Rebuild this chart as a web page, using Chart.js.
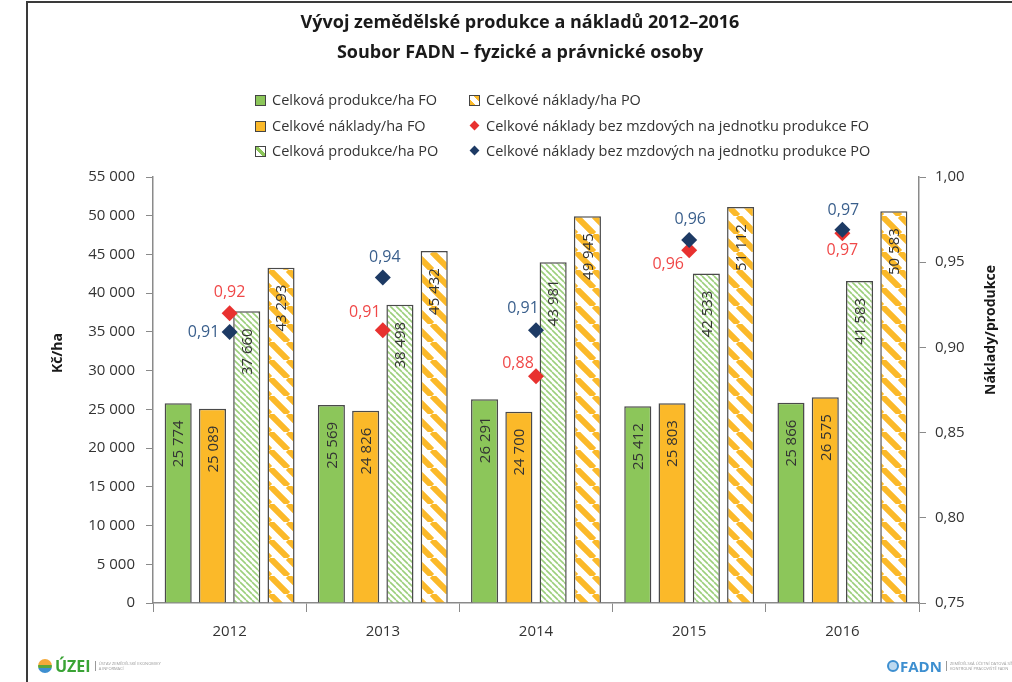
<!DOCTYPE html>
<html><head><meta charset="utf-8">
<script src="https://cdn.jsdelivr.net/npm/chart.js@4.4.1/dist/chart.umd.min.js"></script>
<style>
html,body{margin:0;padding:0;background:#fff;}
#wrap{position:relative;width:1012px;height:682px;overflow:hidden;font-family:'Open Sans',sans-serif;background:#fff;}
#frame{position:absolute;left:26px;top:1px;width:1000px;height:700px;border-top:2px solid #3a3a3a;border-left:2px solid #3a3a3a;pointer-events:none;}
canvas{position:absolute;left:0;top:0;}
.lg{position:absolute;font-size:14.5px;color:#333;white-space:nowrap;line-height:18px;padding-left:17px;}
.ic{position:absolute;left:0;top:4px;width:9px;height:9px;border:1px solid #444;}
.dm{position:absolute;left:2px;top:5px;width:7px;height:7px;transform:rotate(45deg);}
.logo{position:absolute;top:657px;height:17px;display:flex;align-items:center;}
.small{font-size:4px;line-height:5px;color:#999;margin-left:4px;padding-left:3px;border-left:1px solid #999;white-space:nowrap;}
</style></head>
<body>
<div id="wrap">
<canvas id="c" width="1012" height="682"></canvas>
<div id="frame"></div>
<div class="lg" style="left:255px;top:91px;"><span class="ic" style="background:#8cc65a"></span>Celková produkce/ha FO</div>
<div class="lg" style="left:255px;top:117px;"><span class="ic" style="background:#fbb929"></span>Celkové náklady/ha FO</div>
<div class="lg" style="left:255px;top:142px;"><span class="ic" style="background:linear-gradient(45deg,#fff 38%,#8cc65a 38%,#8cc65a 62%,#fff 62%)"></span>Celková produkce/ha PO</div>
<div class="lg" style="left:469px;top:91px;"><span class="ic" style="background:linear-gradient(45deg,#fbb929 0,#fbb929 30%,#fff 30%,#fff 70%,#fbb929 70%)"></span>Celkové náklady/ha PO</div>
<div class="lg" style="left:469px;top:117px;"><span class="dm" style="background:#e8312f"></span>Celkové náklady bez mzdových na jednotku produkce FO</div>
<div class="lg" style="left:469px;top:142px;"><span class="dm" style="background:#1d3a64"></span>Celkové náklady bez mzdových na jednotku produkce PO</div>
<div class="logo" style="left:38px;">
  <span style="display:inline-block;width:14px;height:14px;border-radius:50%;background:linear-gradient(#f4a93a 0,#f4a93a 45%,#5aa63b 45%,#5aa63b 65%,#3d8fd0 65%);"></span>
  <span style="font-weight:bold;color:#3aa335;font-size:16px;margin-left:3px;">ÚZEI</span>
  <span class="small">ÚSTAV ZEMĚDĚLSKÉ EKONOMIKY<br>A INFORMACÍ</span>
</div>
<div class="logo" style="left:887px;">
  <span style="display:inline-block;width:12px;height:12px;border-radius:50%;border:2px solid #3d8fd0;box-sizing:border-box;background:#bcd9f0;"></span>
  <span style="font-weight:bold;color:#3d8fd0;font-size:15px;margin-left:1px;">FADN</span>
  <span class="small">ZEMĚDĚLSKÁ ÚČETNÍ DATOVÁ SÍŤ<br>KONTROLNÍ PRACOVIŠTĚ FADN</span>
</div>
</div>
<script>
// ---- data ----
const categories = ['2012', '2013', '2014', '2015', '2016'];
const prodFO = [25774, 25569, 26291, 25412, 25866];
const naklFO = [25089, 24826, 24700, 25803, 26575];
const prodPO = [37660, 38498, 43981, 42533, 41583];
const naklPO = [43293, 45432, 49945, 51112, 50583];
const ratioFO = [0.920, 0.910, 0.883, 0.957, 0.967];
const ratioPO = [0.909, 0.941, 0.910, 0.963, 0.969];
const seriesNames = ['Celková produkce/ha FO', 'Celkové náklady/ha FO', 'Celková produkce/ha PO', 'Celkové náklady/ha PO',
  'Celkové náklady bez mzdových na jednotku produkce FO', 'Celkové náklady bez mzdových na jednotku produkce PO'];
const leftAxis = {min: 0, max: 55000, step: 5000};
const rightAxis = {min: 0.75, max: 1.00, step: 0.05};

// ---- label placement (style) ----
const offFO = [[0, -21], [-18, -18], [-18, -13], [-21, 14], [0, 17]];
const offPO = [[-26, 0], [2, -20], [-13, -22], [1, -21], [1, -19]];

const FONT = '"Open Sans", sans-serif';
const canvas = document.getElementById('c');
const ctx0 = canvas.getContext('2d');
function makePattern(size, lw, color) {
  const c = document.createElement('canvas');
  c.width = size; c.height = size;
  const g = c.getContext('2d');
  g.fillStyle = '#fff'; g.fillRect(0, 0, size, size);
  g.strokeStyle = color; g.lineWidth = lw;
  g.beginPath();
  for (const o of [-size, 0, size]) { g.moveTo(o, 0); g.lineTo(o + size, size); }
  g.stroke();
  return ctx0.createPattern(c, 'repeat');
}
const greenHatch = makePattern(6, 1.6, '#9ccf7c');
const orangeHatch = makePattern(18, 6, '#fbb929');

const fmtThousands = n => String(n).replace(/\B(?=(\d{3})+(?!\d))/g, '\u00a0');
const fmtRatio = v => v.toFixed(2).replace('.', ',');

const barLabels = {
  id: 'barLabels',
  afterDatasetsDraw(chart) {
    const ctx = chart.ctx;
    ctx.save();
    ctx.font = '15px ' + FONT;
    ctx.fillStyle = '#333';
    ctx.textAlign = 'right';
    ctx.textBaseline = 'middle';
    chart.data.datasets.forEach((ds, i) => {
      if (ds.type !== 'bar') return;
      chart.getDatasetMeta(i).data.forEach((el, j) => {
        ctx.save();
        ctx.translate(el.x + 1, el.y + 17);
        ctx.rotate(-Math.PI / 2);
        ctx.fillText(fmtThousands(ds.data[j]), 0, 0);
        ctx.restore();
      });
    });
    ctx.restore();
  }
};

const pointLabels = {
  id: 'pointLabels',
  afterDatasetsDraw(chart) {
    const ctx = chart.ctx;
    ctx.save();
    ctx.font = '16px ' + FONT;
    ctx.textAlign = 'center';
    ctx.textBaseline = 'middle';
    chart.data.datasets.forEach((ds, i) => {
      if (ds.type !== 'line') return;
      const offs = ds.labelOffsets;
      ctx.fillStyle = ds.labelColor;
      chart.getDatasetMeta(i).data.forEach((el, j) => {
        ctx.fillText(fmtRatio(ds.data[j]), el.x + offs[j][0], el.y + offs[j][1]);
      });
    });
    ctx.restore();
  }
};

const axisTitles = {
  id: 'axisTitles',
  afterDraw(chart) {
    const ctx = chart.ctx;
    ctx.save();
    ctx.font = 'bold 14px ' + FONT;
    ctx.fillStyle = '#1a1a1a';
    ctx.textAlign = 'center';
    ctx.textBaseline = 'middle';
    ctx.translate(58, 353); ctx.rotate(-Math.PI / 2); ctx.fillText('Kč/ha', 0, 0);
    ctx.setTransform(1, 0, 0, 1, 0, 0);
    ctx.translate(991, 330); ctx.rotate(-Math.PI / 2); ctx.fillText('Náklady/produkce', 0, 0);
    ctx.restore();
  }
};

const barCommon = {type: 'bar', yAxisID: 'y', borderColor: '#4a4a4a', borderWidth: 1.5,
  barPercentage: 0.79, categoryPercentage: 0.895, order: 2};

new Chart(canvas, {
  type: 'bar',
  data: {
    labels: categories,
    datasets: [
      {...barCommon, label: seriesNames[0], data: prodFO, backgroundColor: '#8cc65a'},
      {...barCommon, label: seriesNames[1], data: naklFO, backgroundColor: '#fbb929'},
      {...barCommon, label: seriesNames[2], data: prodPO, backgroundColor: greenHatch},
      {...barCommon, label: seriesNames[3], data: naklPO, backgroundColor: orangeHatch},
      {type: 'line', label: seriesNames[4], data: ratioFO, yAxisID: 'y1', showLine: false,
        pointStyle: 'rectRot', pointRadius: 8, pointBackgroundColor: '#e8312f', pointBorderWidth: 0,
        order: 1, labelOffsets: offFO, labelColor: '#f04848'},
      {type: 'line', label: seriesNames[5], data: ratioPO, yAxisID: 'y1', showLine: false,
        pointStyle: 'rectRot', pointRadius: 8, pointBackgroundColor: '#1d3a64', pointBorderWidth: 0,
        order: 0, labelOffsets: offPO, labelColor: '#3a5f8c'}
    ]
  },
  options: {
    responsive: false,
    animation: false,
    layout: {padding: {left: 28, right: 0, top: 0, bottom: 0}},
    plugins: {
      legend: {display: false},
      tooltip: {enabled: false},
      title: {
        display: true,
        text: ['Vývoj zemědělské produkce a nákladů 2012–2016', 'Soubor FADN – fyzické a právnické osoby'],
        color: '#1a1a1a',
        font: {family: FONT, size: 18, weight: 'bold', lineHeight: '30px'},
        padding: {top: 8, bottom: 109}
      }
    },
    scales: {
      x: {
        afterFit: s => { s.height = 79; },
        grid: {display: true, drawOnChartArea: false, drawTicks: true, tickLength: 9, color: '#8a8a8a', offset: true},
        border: {display: true, color: '#8a8a8a', width: 1.5},
        ticks: {color: '#333', font: {family: FONT, size: 15}, padding: 11}
      },
      y: {
        position: 'left',
        min: leftAxis.min, max: leftAxis.max,
        afterFit: s => { s.width = 125; },
        grid: {display: true, drawOnChartArea: false, drawTicks: true, tickLength: 7, color: '#8a8a8a'},
        border: {display: true, color: '#8a8a8a', width: 1.5},
        ticks: {stepSize: leftAxis.step, color: '#333', font: {family: FONT, size: 15}, padding: 11,
          callback: v => fmtThousands(v)}
      },
      y1: {
        position: 'right',
        min: rightAxis.min, max: rightAxis.max,
        afterFit: s => { s.width = 93; },
        grid: {display: true, drawOnChartArea: false, drawTicks: true, tickLength: 7, color: '#8a8a8a'},
        border: {display: true, color: '#8a8a8a', width: 1.5},
        ticks: {stepSize: rightAxis.step, color: '#333', font: {family: FONT, size: 15}, padding: 9,
          callback: v => fmtRatio(v)}
      }
    }
  },
  plugins: [barLabels, pointLabels, axisTitles]
});
</script>
</body></html>
